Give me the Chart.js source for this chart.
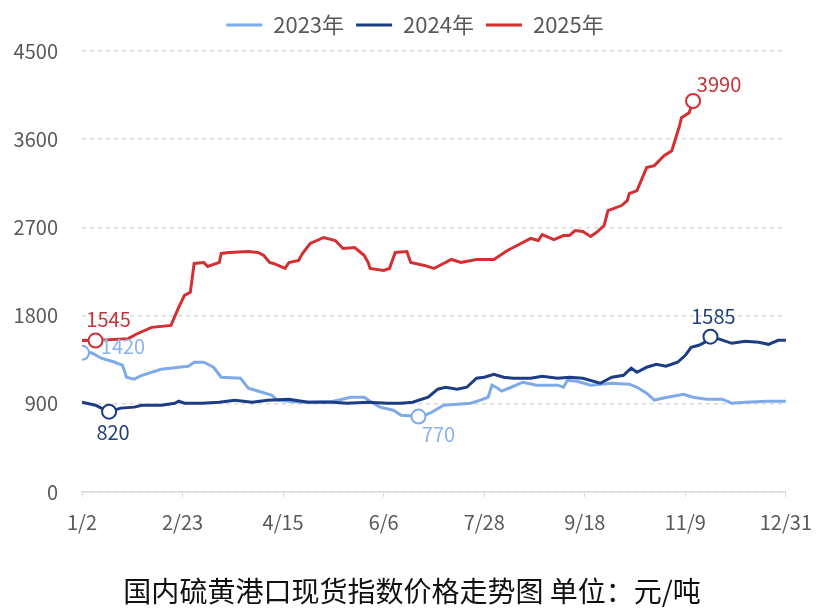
<!DOCTYPE html>
<html>
<head>
<meta charset="utf-8">
<script src="https://cdn.jsdelivr.net/npm/chart.js@4.4.1/dist/chart.umd.min.js"></script>
<style>
  body { margin: 0; background: #fff; }
</style>
</head>
<body>
<canvas id="sulphurChart" width="825" height="615"></canvas>
<script>
// x axis: day of year, 0 = 1/2, 364 = 12/31
const tickDays = [0, 52, 104, 156, 208, 260, 312, 364];
const tickLabels = ['1/2', '2/23', '4/15', '6/6', '7/28', '9/18', '11/9', '12/31'];

const days2023 = [0, 5, 10, 17, 21, 23, 27, 31, 41, 50, 55, 58, 63, 68, 72, 82, 86, 93, 98, 101, 113, 130, 139, 146, 149, 154, 161, 165, 171, 174, 176, 180, 187, 194, 201, 206, 210, 212, 215, 217, 222, 228, 235, 246, 249, 251, 256, 263, 274, 283, 287, 292, 296, 300, 311, 316, 323, 331, 336, 343, 354, 364];
const price2023 = [1420, 1420, 1365, 1324, 1293, 1171, 1151, 1191, 1253, 1273, 1283, 1324, 1324, 1273, 1171, 1160, 1059, 1018, 988, 937, 916, 927, 967, 967, 927, 866, 835, 784, 775, 770, 775, 804, 886, 896, 906, 937, 967, 1090, 1059, 1029, 1069, 1120, 1090, 1090, 1069, 1140, 1130, 1090, 1110, 1100, 1069, 1008, 937, 957, 998, 967, 947, 947, 906, 916, 927, 927];

const days2024 = [0, 7, 12, 14, 20, 27, 31, 41, 48, 50, 53, 62, 71, 79, 88, 96, 107, 117, 130, 137, 148, 158, 165, 171, 179, 184, 188, 194, 199, 204, 208, 213, 218, 223, 232, 238, 246, 252, 259, 268, 274, 280, 284, 287, 292, 297, 302, 308, 312, 315, 319, 323, 325, 330, 336, 343, 350, 355, 360, 364];
const price2024 = [916, 886, 835, 820, 856, 866, 886, 886, 906, 927, 906, 906, 916, 937, 916, 937, 947, 916, 916, 906, 916, 906, 906, 916, 967, 1049, 1069, 1049, 1069, 1161, 1171, 1202, 1171, 1161, 1161, 1181, 1161, 1171, 1161, 1110, 1171, 1191, 1263, 1222, 1273, 1303, 1283, 1324, 1395, 1477, 1497, 1538, 1585, 1558, 1517, 1538, 1527, 1507, 1548, 1548];

const days2025 = [0, 7, 24, 28, 36, 46, 50, 53, 56, 58, 63, 65, 71, 72, 76, 86, 91, 94, 97, 99, 105, 107, 112, 114, 118, 125, 131, 135, 141, 146, 148, 149, 156, 159, 162, 168, 170, 177, 182, 191, 196, 204, 213, 220, 225, 232, 236, 238, 244, 249, 252, 255, 259, 263, 266, 270, 272, 279, 282, 283, 287, 292, 296, 301, 305, 309, 310, 314, 316];
const price2025 = [1545, 1545, 1565, 1610, 1680, 1700, 1884, 2006, 2037, 2332, 2342, 2301, 2342, 2434, 2444, 2454, 2444, 2413, 2342, 2332, 2281, 2342, 2363, 2434, 2536, 2597, 2566, 2485, 2495, 2413, 2342, 2281, 2261, 2281, 2444, 2454, 2342, 2312, 2281, 2373, 2342, 2373, 2373, 2464, 2515, 2587, 2566, 2627, 2576, 2617, 2617, 2668, 2658, 2607, 2648, 2719, 2872, 2923, 2973, 3045, 3075, 3310, 3330, 3432, 3483, 3737, 3819, 3870, 3990];

// marked points (index into each series) with label offsets
const marks = [
    { ds: 0, idx: 0, dx: 41, dy: -6, color: '#8db2ec' },
    { ds: 0, idx: 29, dx: 20, dy: 18, color: '#8db2ec' },
    { ds: 1, idx: 3, dx: 4, dy: 21, color: '#22407e' },
    { ds: 1, idx: 52, dx: 3, dy: -20, color: '#22407e' },
    { ds: 2, idx: 1, dx: 13, dy: -21, color: '#c8323a' },
    { ds: 2, idx: 68, dx: 26, dy: -17, color: '#c8323a' }
];

const FONT = '"Noto Sans CJK SC", "Noto Sans", sans-serif';

function toPoints(days, vals) {
    return days.map((d, i) => ({ x: d, y: vals[i] }));
}

function markRadius(ds) {
    return ctx => marks.some(m => m.ds === ds && m.idx === ctx.dataIndex) ? 7 : 0;
}

const markLabels = {
    id: 'markLabels',
    afterDatasetsDraw(chart) {
        const c = chart.ctx;
        c.save();
        c.font = '20px ' + FONT;
        c.textAlign = 'center';
        c.textBaseline = 'middle';
        marks.forEach(m => {
            const el = chart.getDatasetMeta(m.ds).data[m.idx];
            const v = chart.data.datasets[m.ds].data[m.idx].y;
            c.fillStyle = m.color;
            c.fillText(String(v), el.x + m.dx, el.y + m.dy);
        });
        c.restore();
    }
};

// extra room under the legend, and legend / title centred on the page
const boxTweaks = {
    id: 'boxTweaks',
    beforeInit(chart) {
        const fit = chart.legend.fit;
        chart.legend.fit = function () {
            fit.bind(chart.legend)();
            this.height += 5;
        };
    },
    afterLayout(chart) {
        chart.legend.left += 22;
        chart.legend.right += 22;
        chart.titleBlock.left += 19;
        chart.titleBlock.right += 19;
    }
};

function series(label, color, days, vals, ds, order) {
    return {
        label: label,
        data: toPoints(days, vals),
        borderColor: color,
        backgroundColor: color,
        borderWidth: 3,
        tension: 0,
        order: order,
        pointRadius: markRadius(ds),
        pointHoverRadius: markRadius(ds),
        pointBackgroundColor: '#fff',
        pointBorderColor: color,
        pointBorderWidth: 2
    };
}

new Chart(document.getElementById('sulphurChart'), {
    type: 'line',
    data: {
        datasets: [
            series('2023年', '#7faaea', days2023, price2023, 0, 2),
            series('2024年', '#1c3c84', days2024, price2024, 1, 1),
            series('2025年', '#d42f33', days2025, price2025, 2, 0)
        ]
    },
    options: {
        responsive: false,
        animation: false,
        layout: { padding: { top: 2, left: 0, right: 39, bottom: 0 } },
        plugins: {
            legend: {
                position: 'top',
                labels: {
                    font: { family: FONT, size: 22 },
                    color: '#595959',
                    boxWidth: 36,
                    boxHeight: 3,
                    padding: 12,
                    sort: (a, b) => a.datasetIndex - b.datasetIndex,
                    generateLabels(chart) {
                        return Chart.defaults.plugins.legend.labels.generateLabels(chart)
                            .map(item => Object.assign(item, { lineWidth: 0 }));
                    }
                }
            },
            title: {
                display: true,
                position: 'bottom',
                text: '国内硫黄港口现货指数价格走势图 单位：元/吨',
                color: '#111',
                font: { family: FONT, size: 28, weight: 'normal' },
                padding: { top: 8, bottom: 7 }
            },
            tooltip: { enabled: false }
        },
        scales: {
            x: {
                type: 'linear',
                min: 0,
                max: 364,
                afterBuildTicks: scale => { scale.ticks = tickDays.map(v => ({ value: v })); },
                afterFit: scale => { scale.height = 74.4; },
                ticks: {
                    callback: (v, i) => tickLabels[i],
                    font: { family: FONT, size: 20 },
                    color: '#595959',
                    padding: 13,
                    maxRotation: 0,
                    autoSkip: false
                },
                grid: { drawOnChartArea: false, drawTicks: true, tickLength: 5, color: '#d9d9d9' },
                border: { color: '#d9d9d9', width: 1.5 }
            },
            y: {
                min: 0,
                max: 4500,
                afterFit: scale => { scale.width = 82; },
                ticks: {
                    stepSize: 900,
                    callback: v => String(v),
                    font: { family: FONT, size: 20 },
                    color: '#595959',
                    padding: 24
                },
                grid: { color: '#d9d9d9', lineWidth: 1.5, drawTicks: false },
                border: { display: false, dash: [4, 4] }
            }
        }
    },
    plugins: [markLabels, boxTweaks]
});
</script>
</body>
</html>
